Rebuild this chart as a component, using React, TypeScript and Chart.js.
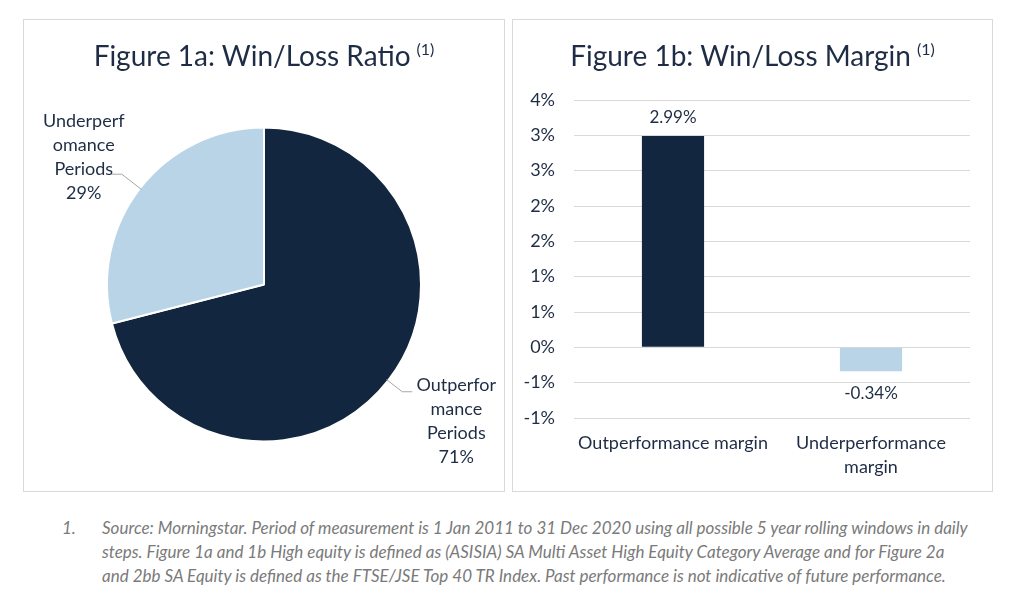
import React, { useEffect, useRef } from 'react';
import { Chart, registerables } from 'chart.js';

Chart.register(...registerables);

// ---------- data ----------
const pieCategories = ['Outperformance Periods', 'Underperformance Periods'];
const pieValues = [71, 29];
const pieLabelLines = [
  ['Outperfor', 'mance', 'Periods'],
  ['Underperf', 'omance', 'Periods'],
];
const barCategories = [['Outperformance margin'], ['Underperformance', 'margin']];
const barValues = [2.99, -0.34];
const yTickValues = [-1, -0.5, 0, 0.5, 1, 1.5, 2, 2.5, 3, 3.5];
const yTickLabels = ['-1%', '-1%', '0%', '1%', '1%', '2%', '2%', '3%', '3%', '4%'];
const footnoteLines = [
  'Source: Morningstar. Period of measurement is 1 Jan 2011 to 31 Dec 2020 using all possible 5 year rolling windows in daily',
  'steps. Figure 1a and 1b High equity is defined as (ASISIA) SA Multi Asset High Equity Category Average and for Figure 2a',
  'and 2bb SA Equity is defined as the FTSE/JSE Top 40 TR Index. Past performance is not indicative of future performance.',
];

// ---------- styles ----------
const NAVY = '#13263f';
const LIGHT = '#b8d4e6';
const TEXT = '#1e2d45';
const GRID = '#d9d9d9';
const FONT = 'Lato, "Open Sans", sans-serif';

const pieLabelLayout = [
  { ext: 18, tail: 10, dx: 44, dy: -7 },
  { ext: 23, tail: 11, dx: -27, dy: -53 },
];

const pieLabelPlugin = {
  id: 'pieLabels',
  afterDatasetsDraw(chart: any) {
    const ctx = chart.ctx;
    const meta = chart.getDatasetMeta(0);
    meta.data.forEach((arc: any, i: number) => {
      const p = arc.getProps(['x', 'y', 'startAngle', 'endAngle', 'outerRadius'], true);
      const mid = (p.startAngle + p.endAngle) / 2;
      const c = Math.cos(mid);
      const s = Math.sin(mid);
      const lay = pieLabelLayout[i];
      const px = p.x + c * (p.outerRadius - 2);
      const py = p.y + s * (p.outerRadius - 2);
      const ex = p.x + c * (p.outerRadius + lay.ext);
      const ey = p.y + s * (p.outerRadius + lay.ext);
      const side = c >= 0 ? 1 : -1;
      const hx = ex + side * lay.tail;
      ctx.save();
      ctx.strokeStyle = '#a6a6a6';
      ctx.lineWidth = 1;
      ctx.beginPath();
      ctx.moveTo(px, py);
      ctx.lineTo(ex, ey);
      ctx.lineTo(hx, ey);
      ctx.stroke();
      ctx.fillStyle = TEXT;
      ctx.font = '18px ' + FONT;
      ctx.textAlign = 'center';
      ctx.textBaseline = 'middle';
      const lines = [...pieLabelLines[i], pieValues[i] + '%'];
      lines.forEach((l, k) => ctx.fillText(l, hx + lay.dx, ey + lay.dy + k * 24));
      ctx.restore();
    });
  },
};

const barLabelPlugin = {
  id: 'barLabels',
  afterDatasetsDraw(chart: any) {
    const ctx = chart.ctx;
    const meta = chart.getDatasetMeta(0);
    meta.data.forEach((bar: any, i: number) => {
      const v = barValues[i];
      const p = bar.getProps(['x', 'y'], true);
      ctx.save();
      ctx.fillStyle = TEXT;
      ctx.font = '17px ' + FONT;
      ctx.textAlign = 'center';
      ctx.textBaseline = 'middle';
      ctx.fillText(v.toFixed(2) + '%', p.x, v >= 0 ? p.y - 19 : p.y + 22);
      ctx.restore();
    });
  },
};

function Title({ text }: { text: string }) {
  return (
    <div
      style={{
        position: 'absolute',
        top: 14,
        left: 0,
        width: '100%',
        textAlign: 'center',
        fontFamily: FONT,
        fontSize: 28,
        lineHeight: '42px',
        color: TEXT,
        whiteSpace: 'nowrap',
      }}
    >
      {text}
      <span style={{ fontSize: 16, position: 'relative', top: -11, marginLeft: 6 }}>(1)</span>
    </div>
  );
}

export default function App() {
  const pieRef = useRef<HTMLCanvasElement>(null);
  const barRef = useRef<HTMLCanvasElement>(null);

  useEffect(() => {
    const pie = new Chart(pieRef.current!, {
      type: 'pie',
      data: {
        labels: pieCategories,
        datasets: [
          {
            data: pieValues,
            backgroundColor: [NAVY, LIGHT],
            borderColor: '#ffffff',
            borderWidth: 2,
            hoverOffset: 0,
            radius: 157,
          } as any,
        ],
      },
      options: {
        responsive: false,
        animation: false,
        layout: { padding: { top: 58, left: 0, right: 0, bottom: 0 } },
        plugins: { legend: { display: false }, tooltip: { enabled: false } },
        events: [],
      },
      plugins: [pieLabelPlugin],
    });

    const bar = new Chart(barRef.current!, {
      type: 'bar',
      data: {
        labels: barCategories,
        datasets: [
          {
            data: barValues,
            backgroundColor: [NAVY, LIGHT],
            barPercentage: 1,
            categoryPercentage: 0.314,
          },
        ],
      },
      options: {
        responsive: false,
        animation: false,
        events: [],
        layout: { padding: { top: 80, right: 22, left: 0, bottom: 0 } },
        plugins: { legend: { display: false }, tooltip: { enabled: false } },
        scales: {
          x: {
            grid: { display: false, drawTicks: false },
            border: { display: false },
            ticks: {
              padding: 13,
              color: TEXT,
              font: { family: FONT, size: 18, lineHeight: 1.3333 },
              maxRotation: 0,
              autoSkip: false,
            },
            afterFit: (s: any) => {
              s.height = 73;
            },
          },
          y: {
            min: -1,
            max: 3.5,
            grid: { color: GRID, lineWidth: 1, drawTicks: false },
            border: { display: false },
            afterBuildTicks: (s: any) => {
              s.ticks = yTickValues.map((v) => ({ value: v }));
            },
            ticks: {
              padding: 19,
              color: TEXT,
              font: { family: FONT, size: 18 },
              callback: (_v: any, i: number) => yTickLabels[i],
            },
            afterFit: (s: any) => {
              s.width = 61;
            },
          },
        },
      },
      plugins: [barLabelPlugin],
    });

    return () => {
      pie.destroy();
      bar.destroy();
    };
  }, []);

  const panel: React.CSSProperties = {
    position: 'absolute',
    top: 19,
    height: 473,
    border: '1px solid #d9d9d9',
    boxSizing: 'border-box',
    background: '#fff',
  };

  const foot: React.CSSProperties = {
    position: 'absolute',
    top: 516,
    fontFamily: FONT,
    fontStyle: 'italic',
    fontSize: 17,
    lineHeight: '24px',
    color: '#7a7a7a',
    whiteSpace: 'nowrap',
  };

  return (
    <div style={{ position: 'absolute', left: 0, top: 0, width: 1024, height: 596, background: '#fff', overflow: 'hidden' }}>
      <div style={{ ...panel, left: 23, width: 482 }}>
        <canvas ref={pieRef} width={480} height={471} style={{ position: 'absolute', left: 0, top: 0, width: 480, height: 471 }} />
        <Title text="Figure 1a: Win/Loss Ratio" />
      </div>
      <div style={{ ...panel, left: 512, width: 481 }}>
        <canvas ref={barRef} width={479} height={471} style={{ position: 'absolute', left: 0, top: 0, width: 479, height: 471 }} />
        <Title text="Figure 1b: Win/Loss Margin" />
      </div>
      <div style={{ ...foot, left: 62 }}>1.</div>
      <div style={{ ...foot, left: 102 }}>
        {footnoteLines.map((l, i) => (
          <div key={i}>{l}</div>
        ))}
      </div>
    </div>
  );
}
